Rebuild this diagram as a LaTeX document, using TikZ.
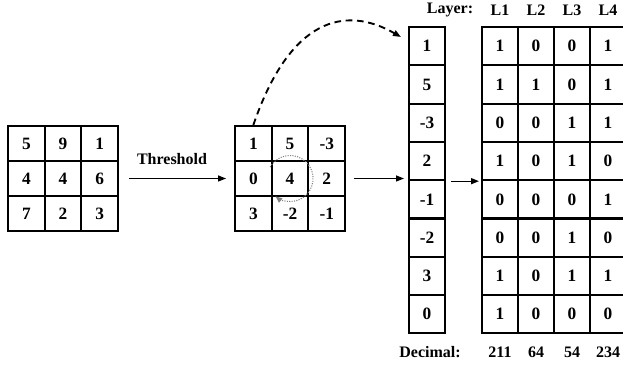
\documentclass[tikz,border=0pt]{standalone}
\usepackage{fontspec}
\setmainfont{Liberation Serif}
\usetikzlibrary{arrows.meta}

\begin{document}
\begin{tikzpicture}[x=0.75pt,y=0.75pt,
    every node/.style={font=\fontsize{12}{14}\selectfont\bfseries},
    cell/.style={draw,line width=1.5pt,minimum width=27.5pt,minimum height=26.25pt,inner sep=0pt,font=\fontsize{13}{15}\selectfont\bfseries},
    vcell/.style={cell,minimum width=27pt,minimum height=28.7pt},
    arr/.style={-{Triangle[length=6pt,width=4.5pt]},line width=1pt}]
     \useasboundingbox (0,0) rectangle (623,373);
     \foreach \row [count=\r] in {{5,9,1},{4,4,6},{7,2,3}} {
      \foreach \v [count=\c] in \row
       \node[cell] (in-\r-\c) at ({8+36.7*(\c-0.5)},{247-35*(\r-0.5)}) {\v};
     }
     \foreach \row [count=\r] in {{1,5,-3},{0,4,2},{3,-2,-1}} {
      \foreach \v [count=\c] in \row
       \node[cell] (th-\r-\c) at ({235+36.7*(\c-0.5)},{247-35*(\r-0.5)}) {\v};
     }
     \foreach \v [count=\i] in {1,5,-3,2,-1,-2,3,0}
      \node[vcell] (v-\i) at (427,{346-38.3*(\i-0.5)}) {\v};
     \foreach \row [count=\r] in {{1,0,0,1},{1,1,0,1},{0,0,1,1},{1,0,1,0},{0,0,0,1},{0,0,1,0},{1,0,1,1},{1,0,0,0}} {
      \foreach \b [count=\c] in \row
       \node[vcell] (b-\r-\c) at ({464+36*\c},{346-38.3*(\r-0.5)}) {\b};
     }
     \node (layer) at (450,363) {Layer:};
     \foreach \c in {1,...,4}
      \node (L\c) at ({464+36*\c},363) {L\c};
     \node (dec) at (430,21) {Decimal:};
     \foreach \d [count=\c] in {211,64,54,234}
      \node (d\c) at ({464+36*\c},21) {\d};
     \node (thr) at (172,214) {Threshold};
     \draw[arr,shorten <=7.5pt,shorten >=6pt] (in-2-3.east) -- (th-2-1.west);
     \draw[arr,shorten <=6pt,shorten >=3pt] (th-2-3.east) -- (th-2-3.east -| v-4.south west);
     \draw[arr,shorten <=3.75pt,shorten >=1.5pt] (v-4.south east) -- (b-4-1.south west);
     \coordinate (tip) at (401,336);
     \draw[arr,line width=1.4pt,dash pattern=on 5pt off 3.5pt] (th-1-1.north) .. controls (290,355) and (345,368) .. (tip);
     \draw[gray,densely dotted,line width=0.8pt,-{Triangle[length=5pt,width=4pt]}]
      ([shift={(150:23)}]th-2-2.center) arc[start angle=150,end angle=-129,radius=23];
    \end{tikzpicture}
\end{document}
